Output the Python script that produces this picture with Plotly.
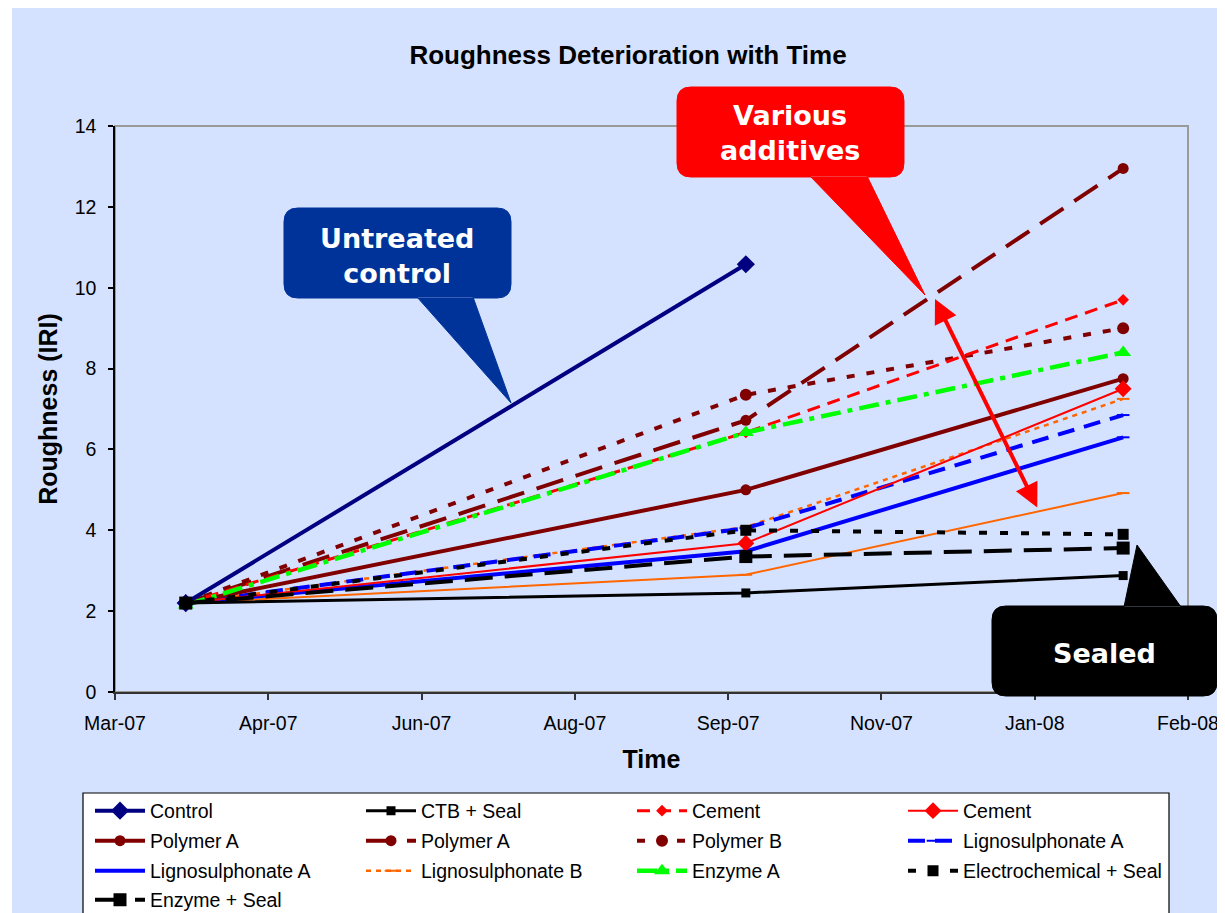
import plotly.graph_objects as go

# ---------------- data ----------------
dates = ["2007-03-25", "2007-10-01", "2008-02-06"]
tick_dates = ["2007-03-01", "2007-04-22", "2007-06-13", "2007-08-04",
              "2007-09-25", "2007-11-16", "2008-01-07", "2008-02-28"]
tick_labels = ["Mar-07", "Apr-07", "Jun-07", "Aug-07", "Sep-07", "Nov-07", "Jan-08", "Feb-08"]

control = [2.2, 10.58]
ctb_seal = [2.2, 2.45, 2.88]
cement_dash = [2.2, 6.42, 9.7]
cement_solid = [2.2, 3.68, 7.5]
polymer_a_solid = [2.2, 5.0, 7.75]
polymer_a_dash = [2.2, 6.72, 12.95]
polymer_b = [2.2, 7.35, 9.0]
ligno_a_dash = [2.2, 4.05, 6.85]
ligno_a_solid = [2.2, 3.48, 6.3]
ligno_b = [2.2, 4.08, 7.25]
orange_solid = [2.2, 2.9, 4.92]
enzyme_a = [2.15, 6.42, 8.4]
electro_seal = [2.2, 4.0, 3.9]
enzyme_seal = [2.2, 3.35, 3.56]

# ---------------- layout geometry (page pixels) ----------------
PAGE_W, PAGE_H = 1225, 913
OFF = 8                       # browser body margin
W, H = PAGE_W - OFF, PAGE_H - OFF
L, R, T, B = 115, 1188, 126, 692   # plot area in page pixels
BG = "#D5E2FF"
FONT = "Liberation Sans, Arial, sans-serif"


def px(x):
    return (x - L) / (R - L)


def py(y):
    return (B - y) / (B - T)


fig = go.Figure()


def add(name, x, y, color, width, dash, symbol, msize, legend, showlegend=True, mline=None, rank=1000):
    marker = dict(symbol=symbol, size=msize, color=color)
    if mline:
        marker["line"] = dict(color=color, width=mline)
    fig.add_trace(go.Scatter(
        x=x, y=y, name=name, mode="lines+markers",
        line=dict(color=color, width=width, dash=dash),
        marker=marker, legend=legend, showlegend=showlegend, legendrank=rank,
    ))


# draw order: bottom series first, squares last; legendrank follows reference legend order
add("Lignosulphonate B", dates, orange_solid, "#FF6600", 2, "solid", "line-ew", 9, "legend", False, 2)
add("Lignosulphonate A", dates, ligno_a_solid, "#0000FF", 4, "solid", "line-ew", 9, "legend3", True, 2, 9)
add("Lignosulphonate B", dates, ligno_b, "#FF6600", 2.5, "5px,5px", "line-ew", 9, "legend3", True, 2, 10)
add("Lignosulphonate A", dates, ligno_a_dash, "#0000FF", 4, "17px,10px", "line-ew", 9, "legend2", True, 2, 8)
add("Polymer A", dates, polymer_a_solid, "#800000", 4, "solid", "circle", 11, "legend2", rank=5)
add("Polymer A", dates, polymer_a_dash, "#800000", 4, "28px,13px", "circle", 11, "legend2", rank=6)
add("Polymer B", dates, polymer_b, "#800000", 4, "8px,12px", "circle", 12, "legend2", rank=7)
add("Cement", dates, cement_dash, "#FF0000", 3, "13px,8px", "diamond", 9, "legend", rank=3)
add("Cement", dates, cement_solid, "#FF0000", 2, "solid", "diamond", 13, "legend", rank=4)
add("Enzyme A", dates, enzyme_a, "#00FF00", 4.5, "20px,7px,5px,7px", "triangle-up", 14, "legend3", rank=11)
add("Control", dates[:2], control, "#000080", 4, "solid", "diamond", 14, "legend", rank=1)
add("CTB + Seal", dates, ctb_seal, "#000000", 3, "solid", "square", 9, "legend", rank=2)
add("Electrochemical + Seal", dates, electro_seal, "#000000", 4, "8px,13px", "square", 11, "legend3", rank=12)
add("Enzyme + Seal", dates, enzyme_seal, "#000000", 4, "28px,12px", "square", 13, "legend4", rank=13)

# ---------------- shapes ----------------
shapes = []
# chart background (white strip left/top as in the reference)
shapes.append(dict(type="rect", xref="paper", yref="paper", layer="below",
                   x0=px(12), x1=px(PAGE_W + 10), y0=py(PAGE_H + 10), y1=py(7),
                   fillcolor=BG, line=dict(width=0)))
# plot area border
shapes.append(dict(type="rect", xref="paper", yref="paper", layer="below",
                   x0=0, x1=1, y0=0, y1=1, fillcolor="rgba(0,0,0,0)",
                   line=dict(color="#9A9A9A", width=2)))
# legend box
shapes.append(dict(type="rect", xref="paper", yref="paper", layer="below",
                   x0=px(83), x1=px(1169), y0=py(PAGE_H + 10), y1=py(793),
                   fillcolor="white", line=dict(color="#000000", width=1.2)))


def callout(x0, y0, x1, y1, r, tail, color):
    p = lambda x, y: f"{px(x):.5f},{py(y):.5f}"
    path = (f"M{p(x0 + r, y0)} L{p(x1 - r, y0)} Q{p(x1, y0)} {p(x1, y0 + r)} "
            f"L{p(x1, y1 - r)} Q{p(x1, y1)} {p(x1 - r, y1)} "
            f"L{p(x0 + r, y1)} Q{p(x0, y1)} {p(x0, y1 - r)} "
            f"L{p(x0, y0 + r)} Q{p(x0, y0)} {p(x0 + r, y0)} Z "
            f"M{p(*tail[0])} L{p(*tail[1])} L{p(*tail[2])} Z")
    return dict(type="path", xref="paper", yref="paper", layer="above", path=path,
                fillcolor=color, line=dict(color=color, width=1))


shapes.append(callout(284, 208, 511, 298, 14, [(417, 297), (473, 297), (511, 403)], "#003399"))
shapes.append(callout(677, 87, 904, 177, 14, [(810, 176), (867, 176), (925, 295)], "#FF0000"))
shapes.append(callout(992, 606, 1217, 696, 14, [(1124, 607), (1181, 607), (1137, 545)], "#000000"))

# ---------------- annotations ----------------
CFONT = dict(family="DejaVu Sans, sans-serif", size=27, color="white", weight="bold")
annotations = [
    dict(xref="paper", yref="paper", x=px(397), y=py(256), text="Untreated<br>control",
         showarrow=False, font=CFONT, xanchor="center", yanchor="middle"),
    dict(xref="paper", yref="paper", x=px(790), y=py(133), text="Various<br>additives",
         showarrow=False, font=CFONT, xanchor="center", yanchor="middle"),
    dict(xref="paper", yref="paper", x=px(1104), y=py(653), text="Sealed",
         showarrow=False, font=CFONT, xanchor="center", yanchor="middle"),
    dict(xref="paper", yref="paper", x=px(935), y=py(299), text="",
         showarrow=True, arrowhead=2, startarrowhead=2, arrowside="end+start",
         arrowsize=1.2, startarrowsize=1.2, arrowwidth=4, arrowcolor="#FF0000",
         ax=1038 - 935, ay=509 - 299, standoff=0, startstandoff=0),
]

# ---------------- legends (one per row) ----------------
leg_common = dict(orientation="h", xanchor="left", yanchor="middle", x=px(90),
                  bgcolor="rgba(0,0,0,0)", borderwidth=0, itemwidth=50,
                  entrywidth=206, font=dict(family=FONT, size=19.5, color="black"),
                  traceorder="normal", itemclick=False, itemdoubleclick=False)

fig.update_layout(
    width=W, height=H,
    margin=dict(l=L - OFF, r=PAGE_W - R, t=T - OFF, b=PAGE_H - B, autoexpand=False),
    paper_bgcolor="white", plot_bgcolor=BG,
    font=dict(family=FONT, color="black"),
    title=dict(text="Roughness Deterioration with Time", x=(628 - OFF) / W, xanchor="center",
               y=1 - (55 - OFF) / H, yanchor="middle", yref="container",
               font=dict(family=FONT, size=26, weight="bold", color="black")),
    xaxis=dict(type="date", range=[tick_dates[0], tick_dates[-1]],
               tickmode="array", tickvals=tick_dates, ticktext=tick_labels,
               showgrid=False, zeroline=False, showline=True, linecolor="#333333", linewidth=2,
               ticks="outside", ticklen=6, tickwidth=1.5, tickcolor="#333333",
               ticklabelstandoff=7,
               tickfont=dict(family=FONT, size=19.5, color="black"),
               title=dict(text="Time", standoff=17,
                          font=dict(family=FONT, size=25, weight="bold", color="black"))),
    yaxis=dict(range=[0, 14], tickmode="linear", tick0=0, dtick=2,
               showgrid=False, zeroline=False, showline=True, linecolor="#000000", linewidth=1.5,
               ticks="outside", ticklen=5, tickwidth=1.5, tickcolor="#000000",
               ticklabelstandoff=8,
               tickfont=dict(family=FONT, size=19.5, color="black"),
               title=dict(text="Roughness (IRI)", standoff=10,
                          font=dict(family=FONT, size=25, weight="bold", color="black"))),
    legend=dict(leg_common, y=py(811)),
    legend2=dict(leg_common, y=py(841)),
    legend3=dict(leg_common, y=py(871)),
    legend4=dict(leg_common, y=py(900)),
    shapes=shapes,
    annotations=annotations,
    hovermode=False,
)

fig.write_html("out.html")
